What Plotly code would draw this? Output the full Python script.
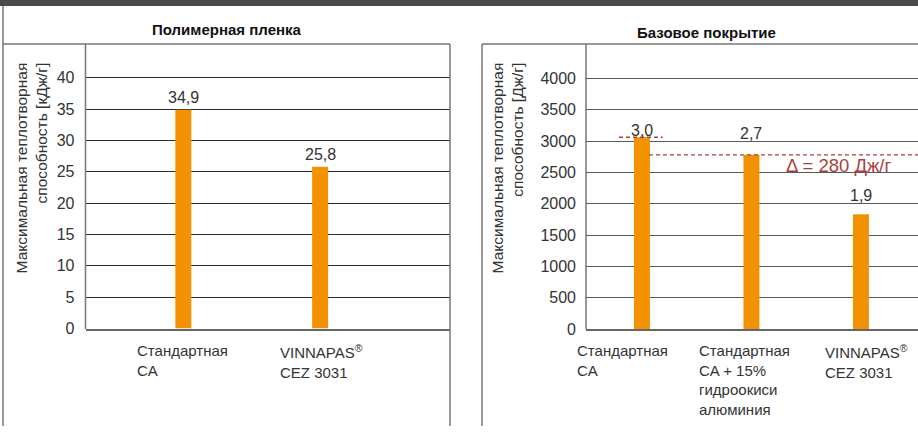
import plotly.graph_objects as go

# ---------------- data ----------------
left_title = "Полимерная пленка"
left_categories = ["Стандартная<br>CA", "VINNAPAS<sup>®</sup><br>CEZ 3031"]
left_values = [34.9, 25.8]
left_ticks = [0, 5, 10, 15, 20, 25, 30, 35, 40]
left_ytitle = "Максимальная теплотворная<br>способность [кДж/г]"

right_title = "Базовое покрытие"
right_categories = ["Стандартная<br>CA",
                    "Стандартная<br>CA + 15%<br>гидроокиси<br>алюминия",
                    "VINNAPAS<sup>®</sup><br>CEZ 3031"]
right_values = [3060, 2780, 1830]
right_labels = ["3,0", "2,7", "1,9"]
right_ticks = [0, 500, 1000, 1500, 2000, 2500, 3000, 3500, 4000]
right_ytitle = "Максимальная теплотворная<br>способность [Дж/г]"
delta_label = "Δ = 280 Дж/г"

# ---------------- style ----------------
W, H = 918, 435
FONT = "Liberation Sans, Arial, sans-serif"
TXT = "#333333"
BAR = "#f39200"
RED = "#a8423e"
FRAME = "#777777"

def px(x):
    return x / W

def py(y):
    return 1 - y / H

fig = go.Figure()

fig.add_trace(go.Bar(x=left_categories, y=left_values, marker_color=BAR,
                     marker_line_width=0, width=0.117, xaxis="x", yaxis="y",
                     hoverinfo="skip"))
fig.add_trace(go.Bar(x=right_categories, y=right_values, marker_color=BAR,
                     marker_line_width=0, width=0.146, xaxis="x2", yaxis="y2",
                     hoverinfo="skip"))

ann = []
shapes = []

# value labels
left_yshift = [12, 12]
for c, v, s in zip(left_categories, left_values, left_yshift):
    ann.append(dict(x=c, y=v, xref="x", yref="y", text=f"{v:.1f}".replace(".", ","),
                    showarrow=False, xanchor="center", yanchor="middle", yshift=s,
                    font=dict(size=16, color=TXT, family=FONT)))
right_yshift = [7, 21, 19]
for c, v, t, s in zip(right_categories, right_values, right_labels, right_yshift):
    ann.append(dict(x=c, y=v, xref="x2", yref="y2", text=t,
                    showarrow=False, xanchor="center", yanchor="middle", yshift=s,
                    font=dict(size=16, color=TXT, family=FONT)))

# category labels
left_xshift = [-48, -42]
for c, s in zip(left_categories, left_xshift):
    ann.append(dict(x=c, y=py(347), xref="x", yref="paper", text=c, align="left",
                    showarrow=False, xanchor="left", yanchor="top", xshift=s,
                    font=dict(size=15, color=TXT, family=FONT)))
right_xshift = [-67, -54, -38]
for c, s in zip(right_categories, right_xshift):
    ann.append(dict(x=c, y=py(347), xref="x2", yref="paper", text=c, align="left",
                    showarrow=False, xanchor="left", yanchor="top", xshift=s,
                    font=dict(size=15, color=TXT, family=FONT)))

# panel titles
ann.append(dict(x=px(227), y=py(30), xref="paper", yref="paper", text=f"<b>{left_title}</b>",
                showarrow=False, xanchor="center", yanchor="middle",
                font=dict(size=15, color="#111", family=FONT)))
ann.append(dict(x=px(706), y=py(33), xref="paper", yref="paper", text=f"<b>{right_title}</b>",
                showarrow=False, xanchor="center", yanchor="middle",
                font=dict(size=15, color="#111", family=FONT)))

# y-axis titles
ann.append(dict(x=px(31), y=py(172), xref="paper", yref="paper", text=left_ytitle,
                textangle=-90, align="right", showarrow=False,
                xanchor="center", yanchor="middle",
                font=dict(size=15.5, color=TXT, family=FONT)))
ann.append(dict(x=px(507), y=py(172), xref="paper", yref="paper", text=right_ytitle,
                textangle=-90, align="right", showarrow=False,
                xanchor="center", yanchor="middle",
                font=dict(size=15.5, color=TXT, family=FONT)))

# delta label
ann.append(dict(x=px(838), y=py(169), xref="paper", yref="paper", text=delta_label,
                showarrow=False, xanchor="center", yanchor="middle",
                font=dict(size=18.5, color=RED, family=FONT)))

# dashed reference lines at bar tops
shapes.append(dict(type="line", xref="x2", yref="y2", x0=-0.21, x1=0.19,
                   y0=right_values[0], y1=right_values[0],
                   line=dict(color=RED, width=1.3, dash="4px,3px")))
shapes.append(dict(type="line", xref="x2", yref="y2", x0=0.064, x1=2.53,
                   y0=right_values[1], y1=right_values[1],
                   line=dict(color=RED, width=1.3, dash="4px,3px")))

# frame decoration
def seg(x0, y0, x1, y1, color=FRAME, width=1.5):
    shapes.append(dict(type="line", xref="paper", yref="paper",
                       x0=px(x0), y0=py(y0), x1=px(x1), y1=py(y1),
                       line=dict(color=color, width=width)))

shapes.append(dict(type="rect", xref="paper", yref="paper", x0=0, x1=1,
                   y0=py(6), y1=1, fillcolor="#4a4a4a", line=dict(width=0)))
seg(3, 6, 3, 435)
seg(3, 45, 450, 45)
seg(450, 45, 450, 435)
seg(482, 45, 482, 435)
seg(482, 45, 918, 45)
seg(85.5, 45, 85.5, 336)
seg(586, 45, 586, 336)

left_top = (335.5 - 45) / 6.4
right_top = (336 - 45) / 0.064

fig.update_layout(
    width=W, height=H,
    margin=dict(l=0, r=0, t=0, b=0),
    paper_bgcolor="white", plot_bgcolor="white",
    showlegend=False,
    annotations=ann, shapes=shapes,
    xaxis=dict(domain=[px(85.5), px(450)], range=[-0.715, 1.949], type="category",
               showticklabels=False, showgrid=False, zeroline=False,
               showline=True, linecolor="#666", linewidth=1.5, ticks="",
               categoryorder="array", categoryarray=left_categories),
    yaxis=dict(domain=[py(335.5), py(45)], range=[0, left_top],
               tickvals=left_ticks, ticktext=[str(t) for t in left_ticks],
               showgrid=True, gridcolor="#2a2a2a", gridwidth=1.3, zeroline=False,
               showline=False, ticks="", ticklabelstandoff=10,
               tickfont=dict(size=16, color=TXT, family=FONT)),
    xaxis2=dict(domain=[px(586), 1], range=[-0.511, 2.521], type="category",
                anchor="y2",
                showticklabels=False, showgrid=False, zeroline=False,
                showline=True, linecolor="#666", linewidth=1.5, ticks="",
                categoryorder="array", categoryarray=right_categories),
    yaxis2=dict(domain=[py(336), py(45)], range=[0, right_top], anchor="x2",
                tickvals=right_ticks, ticktext=[str(t) for t in right_ticks],
                showgrid=True, gridcolor="#5a5a5a", gridwidth=1.3, zeroline=False,
                showline=False, ticks="", ticklabelstandoff=9,
                tickfont=dict(size=16, color=TXT, family=FONT)),
)

fig.write_html("out.html", config={"displayModeBar": False},
               post_script="document.body.style.margin='0';document.body.style.overflow='hidden';")
